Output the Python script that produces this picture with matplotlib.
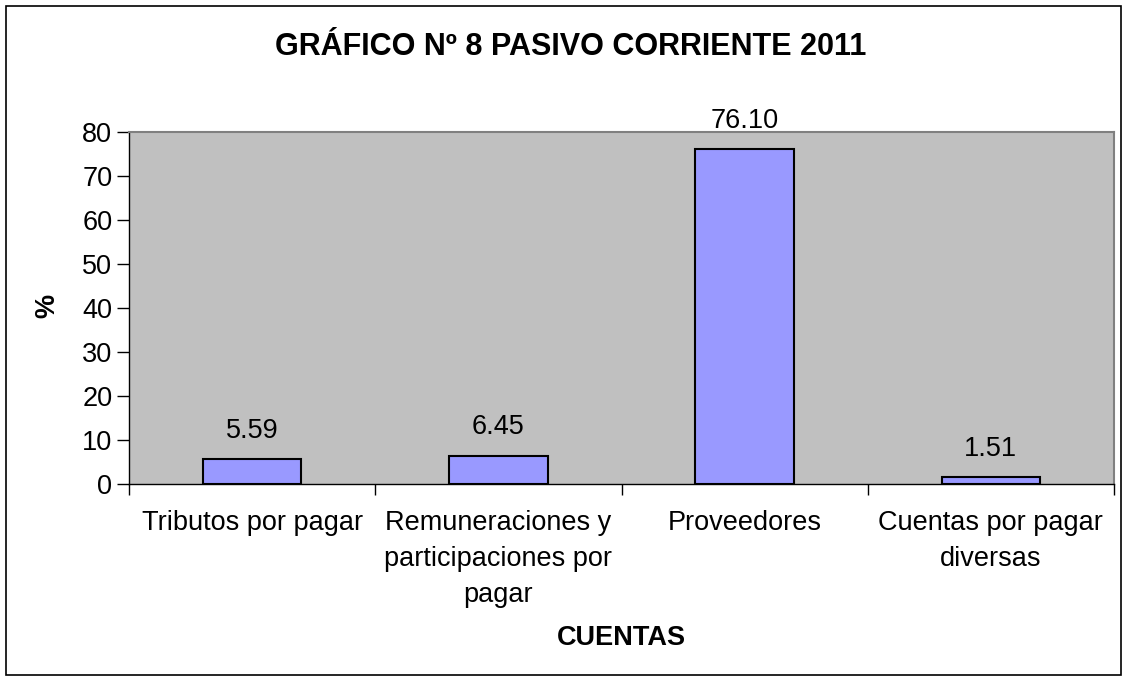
import matplotlib
matplotlib.use("Agg")
import matplotlib.pyplot as plt
from matplotlib.patches import Rectangle

categories = ["Tributos por pagar", "Remuneraciones y\nparticipaciones por\npagar",
              "Proveedores", "Cuentas por pagar\ndiversas"]
values = [5.59, 6.45, 76.10, 1.51]
value_labels = ["5.59", "6.45", "76.10", "1.51"]
yticks = [0, 10, 20, 30, 40, 50, 60, 70, 80]
title = "GRÁFICO Nº 8 PASIVO CORRIENTE 2011"
xlabel = "CUENTAS"
ylabel = "%"

plt.rcParams['font.family'] = ['Liberation Sans', 'DejaVu Sans']
FS = 19.5

W, H = 1127, 681
fig = plt.figure(figsize=(W / 100, H / 100), dpi=100)
ax = fig.add_axes([129 / W, 1 - 484 / H, (1114 - 129) / W, (484 - 132) / H])
ax.set_facecolor("#C0C0C0")

x = list(range(len(categories)))
ax.bar(x, values, width=0.4, color="#9999FF", edgecolor="black", linewidth=1.5, zorder=3)
for xi, v, lab in zip(x, values, value_labels):
    ax.annotate(lab, (xi, v), xytext=(0, 11), textcoords="offset points",
                ha="center", va="bottom", fontsize=FS)

ax.set_xlim(-0.5, len(categories) - 0.5)
ax.set_ylim(0, 80)
ax.set_yticks(yticks)
ax.set_yticklabels([str(t) for t in yticks], fontsize=FS)
ax.tick_params(axis="y", length=9, width=1, pad=3)

ax.set_xticks(x)
ax.set_xticklabels(categories, fontsize=FS, linespacing=1.5)
ax.tick_params(axis="x", which="major", length=0, pad=19)
ax.set_xticks([i - 0.5 for i in range(len(categories) + 1)], minor=True)
ax.tick_params(axis="x", which="minor", length=8, width=1)

for side in ["top", "right"]:
    ax.spines[side].set_color("#808080")
    ax.spines[side].set_linewidth(1.5)
for side in ["left", "bottom"]:
    ax.spines[side].set_color("black")
    ax.spines[side].set_linewidth(1)

fig.text(571 / W, 1 - 47 / H, title, ha="center", va="center",
         fontsize=22, fontweight="bold")
fig.text(0.5 * (129 + 1114) / W, 1 - 638 / H, xlabel, ha="center", va="center",
         fontsize=FS, fontweight="bold")
fig.text(47 / W, 1 - 306 / H, ylabel, ha="center", va="center", rotation=90,
         fontsize=FS, fontweight="bold")

fig.patches.append(Rectangle((6 / W, 6 / H), (1121 - 6) / W, (675 - 6) / H,
                             transform=fig.transFigure, fill=False,
                             edgecolor="black", linewidth=1.2))

fig.savefig("out.png", dpi=100, facecolor="white")
